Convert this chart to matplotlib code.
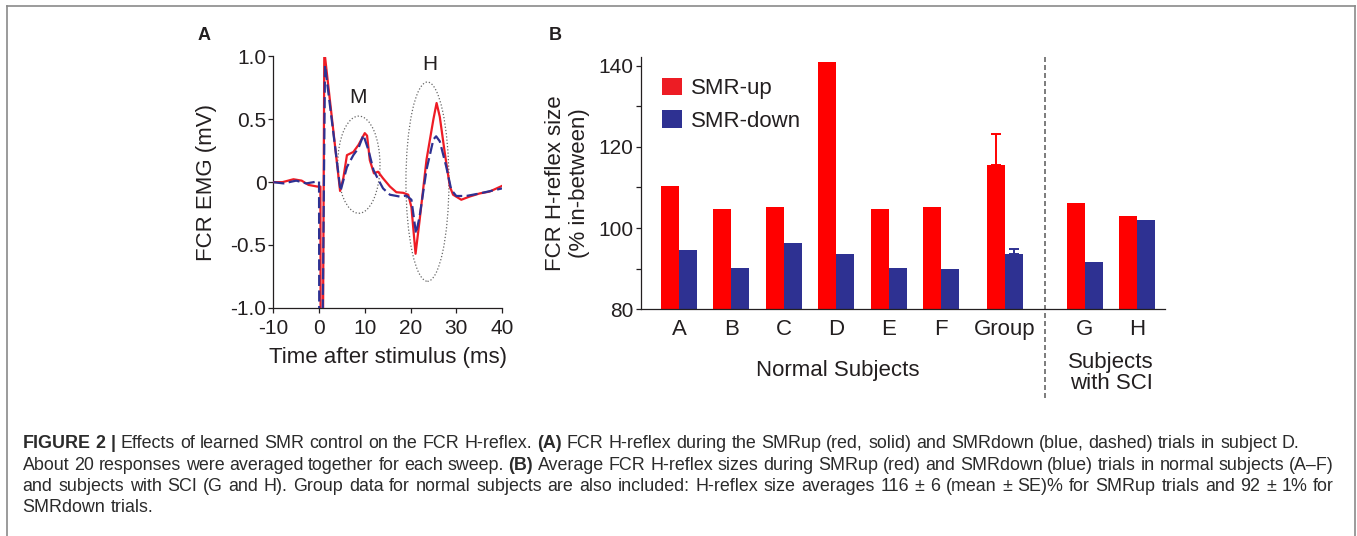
import matplotlib
matplotlib.use("Agg")
import matplotlib.pyplot as plt
from matplotlib.patches import Ellipse
from matplotlib.lines import Line2D
import numpy as np

plt.rcParams["font.family"] = ["Liberation Sans", "DejaVu Sans"]

RED = "#FF0000"
TRACE_RED = "#EE1C25"
BLUE = "#2E3192"
INK = "#231F20"

# ---- panel A: averaged EMG sweeps (subject D) ----
t_up = [-10, -8, -5.6, -3.8, -2.3, -0.4, 0.3, 0.35, 0.85, 1.15, 4.6, 5.3, 6.1, 7.5, 8.6,
        10.0, 10.5, 11.1, 12.0, 12.9, 14.0, 15.5, 16.9, 18.4, 19.5, 20.2, 21.1, 22.0,
        23.5, 25.0, 25.7, 26.4, 27.5, 28.6, 29.3, 31.1, 32.9, 35.1, 37.3, 40]
v_up = [0, 0.0, 0.023, 0.012, -0.022, -0.035, -0.035, -1.3, -1.3, 1.05, -0.07, 0.03, 0.215, 0.24, 0.295,
        0.39, 0.37, 0.175, 0.07, 0.083, 0.03, -0.035, -0.08, -0.085, -0.1, -0.2, -0.57, -0.3,
        0.18, 0.5, 0.63, 0.52, 0.23, -0.035, -0.1, -0.14, -0.115, -0.09, -0.075, -0.03]

t_down = [-10, -7.8, -5.0, -2.8, -0.4, 0.0, 0.05, 0.75, 1.3, 4.7, 6.1, 7.5, 8.6, 9.7, 10.8,
          11.9, 13.0, 14.0, 15.5, 17.7, 19.1, 20.2, 21.2, 22.0, 23.5, 25.0, 25.6, 26.4,
          27.8, 28.9, 30.0, 32.2, 35.1, 40]
v_down = [0, -0.01, 0.012, -0.01, 0.005, 0.005, -1.3, -1.3, 0.93, -0.07, 0.12, 0.215, 0.27, 0.375, 0.255,
          0.097, 0.017, -0.05, -0.1, -0.115, -0.107, -0.14, -0.41, -0.27, 0.1, 0.34, 0.365, 0.325,
          0.125, -0.06, -0.11, -0.11, -0.09, -0.05]

# ---- panel B: H-reflex size (% in-between) ----
subjects = ["A", "B", "C", "D", "E", "F", "Group", "G", "H"]
smr_up = [110.4, 104.8, 105.2, 140.8, 104.7, 105.1, 115.4, 106.1, 102.9]
smr_down = [94.6, 90.1, 96.4, 93.5, 90.1, 89.9, 93.6, 91.6, 101.9]
group_up_se = 7.85
group_down_se = 1.3

caption = [
    [("FIGURE 2 |", True), ("Effects of learned SMR control on the FCR H-reflex.", False), ("(A)", True),
     ("FCR H-reflex during the SMRup (red, solid) and SMRdown (blue, dashed) trials in subject D.", False)],
    [("About 20 responses were averaged together for each sweep.", False), ("(B)", True),
     ("Average FCR H-reflex sizes during SMRup (red) and SMRdown (blue) trials in normal subjects (A\u2013F)", False)],
    [("and subjects with SCI (G and H). Group data for normal subjects are also included: H-reflex size averages "
      "116 \u00b1 6 (mean \u00b1 SE)% for SMRup trials and 92 \u00b1 1% for", False)],
    [("SMRdown trials.", False)],
]
caption_justify = [False, True, True, False]

W, H = 1357, 536
fig = plt.figure(figsize=(W / 100, H / 100), dpi=100)

# ================= panel A =================
axA = fig.add_axes([273.3 / W, 1 - 307.8 / H, 228.7 / W, 251.3 / H])
axA.plot(t_up, v_up, color=TRACE_RED, lw=1.6, zorder=3)
axA.plot(t_down, v_down, color=BLUE, lw=1.6, dashes=(5, 2), zorder=4)
axA.add_patch(Ellipse((8.7, 0.139), 9.25, 0.773, fill=False, ec="#666666", lw=0.9, ls=(0, (1, 1.6))))
axA.add_patch(Ellipse((23.7, 0.004), 9.4, 1.586, fill=False, ec="#666666", lw=0.9, ls=(0, (1, 1.6))))
axA.text(8.6, 0.67, "M", ha="center", va="center", fontsize=15, color=INK)
axA.text(24.2, 0.94, "H", ha="center", va="center", fontsize=15, color=INK)
axA.set_xlim(-10, 40)
axA.set_ylim(-1, 1)
axA.set_xticks([-10, 0, 10, 20, 30, 40])
axA.set_xticklabels(["-10", "0", "10", "20", "30", "40"])
axA.set_yticks([-1, -0.5, 0, 0.5, 1])
axA.set_yticklabels(["-1.0", "-0.5", "0", "0.5", "1.0"])
axA.tick_params(axis="both", direction="out", length=3.4, width=0.9, colors=INK, labelsize=15)
axA.tick_params(axis="y", pad=1.5)
axA.tick_params(axis="x", pad=5)
axA.set_xlabel("Time after stimulus (ms)", fontsize=16, color=INK, labelpad=6)
axA.set_ylabel("FCR EMG (mV)", fontsize=16, color=INK, labelpad=10)
for s in ["top", "right"]:
    axA.spines[s].set_visible(False)
for s in ["left", "bottom"]:
    axA.spines[s].set_color(INK)
    axA.spines[s].set_linewidth(0.9)

# ================= panel B =================
axB = fig.add_axes([640.7 / W, 1 - 309.3 / H, 524.3 / W, 251.9 / H])
xpos = np.arange(len(subjects), dtype=float)
xpos[6:] += 0.22
xpos[7:] += 0.52
bw = 0.345
axB.bar(xpos - bw / 2, smr_up, bw, color=RED, lw=0, zorder=2)
axB.bar(xpos + bw / 2, smr_down, bw, color=BLUE, lw=0, zorder=2)
axB.errorbar(xpos[6] - bw / 2, smr_up[6], yerr=[[0], [group_up_se]], color=RED,
             lw=1.4, capsize=3.6, capthick=1.4, zorder=3)
axB.errorbar(xpos[6] + bw / 2, smr_down[6], yerr=[[0], [group_down_se]], color=BLUE,
             lw=1.4, capsize=3.6, capthick=1.4, zorder=3)
# legend handles
axB.bar([0], [0], color="#ED1C24", label="SMR-up")
axB.bar([0], [0], color=BLUE, label="SMR-down")
axB.legend(loc="upper left", bbox_to_anchor=(0.04, 0.92), frameon=False, fontsize=16,
           handlelength=0.9, handleheight=0.85, handletextpad=0.4, labelspacing=0.5,
           borderpad=0, borderaxespad=0, labelcolor=INK)
axB.set_xlim(-0.73, 9.27)
axB.set_ylim(80, 142)
axB.set_yticks([80, 100, 120, 140])
axB.set_yticks([90, 110, 130], minor=True)
axB.set_xticks(xpos)
axB.set_xticklabels(subjects)
axB.tick_params(axis="y", which="both", direction="out", length=3.6, width=0.9, colors=INK,
                labelsize=15, pad=1.5)
axB.tick_params(axis="x", length=0, labelsize=16, colors=INK, pad=7)
axB.set_ylabel("FCR H-reflex size\n(% in-between)", fontsize=16, color=INK, labelpad=6)
for s in ["top", "right"]:
    axB.spines[s].set_visible(False)
for s in ["left", "bottom"]:
    axB.spines[s].set_color(INK)
    axB.spines[s].set_linewidth(0.9)

# divider between normal subjects and SCI subjects
axB.axvline((xpos[6] + xpos[7]) / 2, ymin=-0.352, ymax=1.0, color="#666666", lw=1.2,
            dashes=(3, 1.8), clip_on=False, zorder=1)
trans = axB.get_xaxis_transform()
axB.text(np.mean(xpos[:7]), -0.241, "Normal Subjects", transform=trans, ha="center",
         va="center", fontsize=16, color=INK)
axB.text(np.mean(xpos[7:]), -0.251, "Subjects\nwith SCI", transform=trans, ha="center",
         va="center", fontsize=16, color=INK, linespacing=1.0)

# panel letters
fig.text(204 / W, 1 - 35 / H, "A", fontsize=13, weight="bold", ha="center", va="center", color=INK)
fig.text(555 / W, 1 - 36 / H, "B", fontsize=13, weight="bold", ha="center", va="center", color=INK)

# frame around the figure
frame = dict(color="#8a8a8a", lw=1.2, transform=fig.transFigure)
fig.add_artist(Line2D([7.3 / W, 7.3 / W], [0, 1 - 6 / H], **frame))
fig.add_artist(Line2D([7.3 / W, 1355 / W], [1 - 6 / H, 1 - 6 / H], **frame))
fig.add_artist(Line2D([1355 / W, 1355 / W], [0, 1 - 6 / H], **frame))

# caption (mixed bold / regular runs, lines 2-3 justified)
renderer = fig.canvas.get_renderer()


def text_width(s, bold, size):
    t = fig.text(0, 0, s, fontsize=size, weight="bold" if bold else "normal")
    w = t.get_window_extent(renderer).width
    t.remove()
    return w


def space_width(size):
    return text_width("a a", False, size) - text_width("aa", False, size)


def words_of(parts):
    return [(w, b) for s, b in parts for w in s.split(" ")]


def natural_width(parts, size):
    ws = words_of(parts)
    return sum(text_width(w, b, size) for w, b in ws) + space_width(size) * (len(ws) - 1)


x0 = 22.7
cap_size = 12 * ((1302 - x0) / natural_width(caption[0], 12))
sp = space_width(cap_size)
baselines = [448.3, 469.5, 490.7, 511.9]
for parts, yb, just in zip(caption, baselines, caption_justify):
    ws = words_of(parts)
    widths = [text_width(w, b, cap_size) for w, b in ws]
    gap = sp
    if just:
        gap = ((1334 - x0) - sum(widths)) / (len(ws) - 1)
    x = x0
    for (w, b), wd in zip(ws, widths):
        fig.text(x / W, 1 - yb / H, w, fontsize=cap_size, weight="bold" if b else "normal",
                 va="baseline", ha="left", color="#2b2b2b")
        x += wd + gap

fig.savefig("out.png", dpi=100)
